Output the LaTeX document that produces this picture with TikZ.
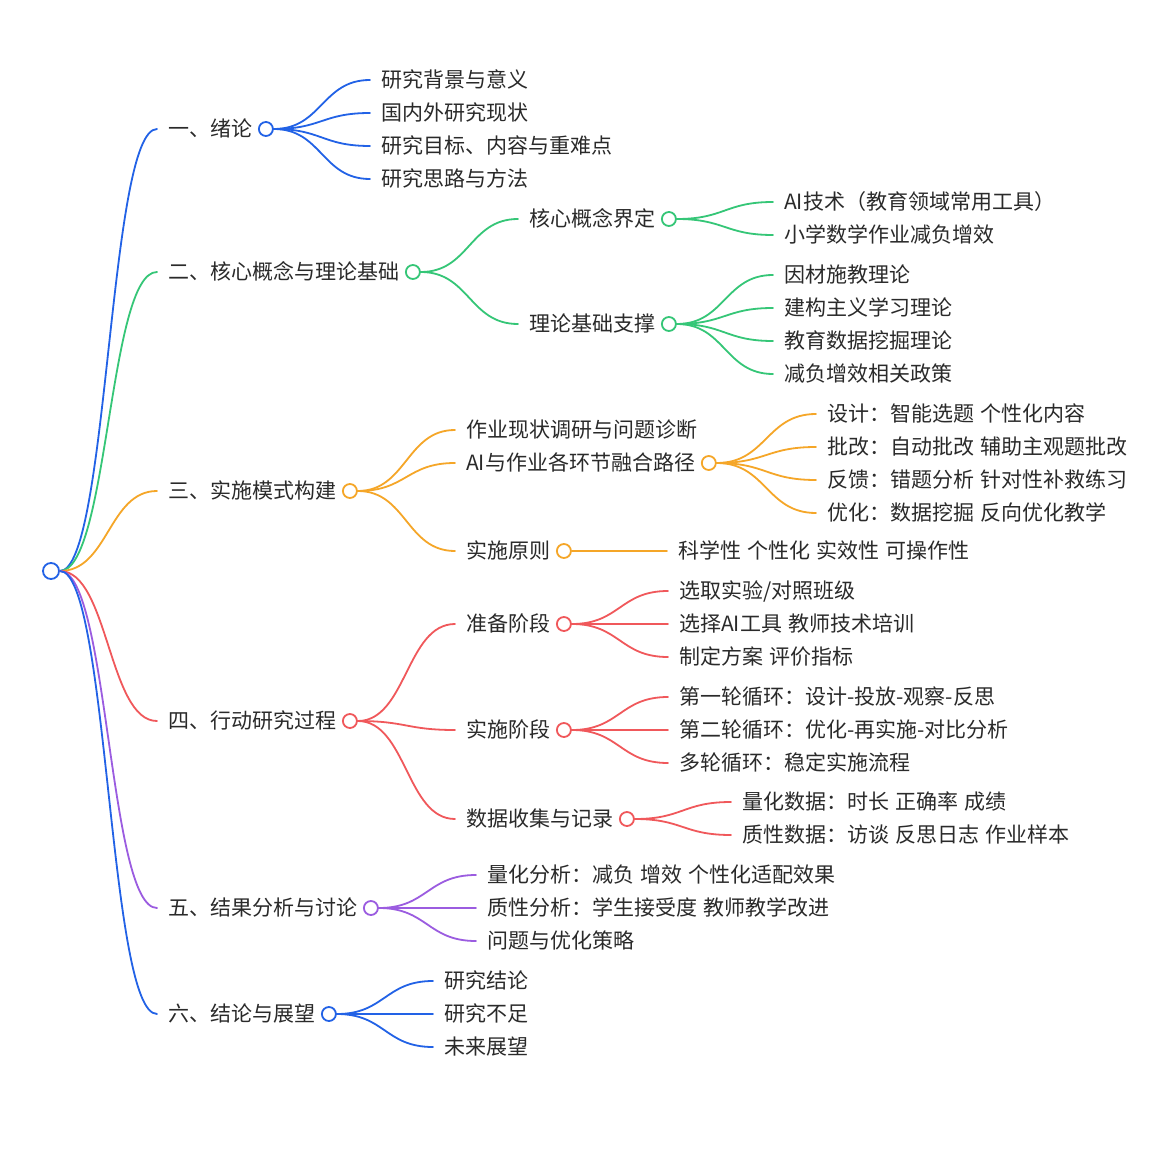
\documentclass[tikz,border=0pt]{standalone}
\usepackage{fontspec}
\setmainfont[WordSpace=1.28]{Noto Sans CJK SC}
\usetikzlibrary{calc}
\definecolor{mmblue}{HTML}{2262E6}
\definecolor{mmgreen}{HTML}{35C677}
\definecolor{mmorange}{HTML}{F5A628}
\definecolor{mmred}{HTML}{F0585B}
\definecolor{mmpurple}{HTML}{9B5CE0}
\definecolor{mmtext}{HTML}{2A2A2A}
\tikzset{
  txt/.style={anchor=west, inner sep=0pt, text=mmtext, font=\fontsize{21pt}{25pt}\selectfont, text height=18pt, text depth=3pt},
  mmdot/.style={circle, draw=#1, fill=white, line width=1.8pt, minimum size=14pt, inner sep=0pt},
  mmline/.style={draw=#1, line width=1.8pt, line cap=round},
}
\newcommand\mmlink[3]{\draw[mmline=#1] let \p1=(#2), \p2=(#3) in (\p1) .. controls ({0.5*\x1+0.5*\x2},\y1) and ({0.5*\x1+0.5*\x2},\y2) .. (\p2);}
\newcommand\mmitem[4]{\coordinate (#1-l) at (#2,#3); \node[txt] (#1) at (#2+11,#3) {#4};}
\newcommand\mmhub[2]{\node[mmdot=#2] (#1-c) at ([xshift=13.5pt]#1.east) {};}
\begin{document}
\begin{tikzpicture}[x=1pt,y=-1pt]
\fill[white] (0,0) rectangle (1170,1155);
\useasboundingbox (0,0) rectangle (1170,1155);

% root
\node[mmdot=mmblue, minimum size=16pt] (root) at (51,571) {};

% level 1
\mmitem{A}{157}{129}{一、绪论}
\mmitem{B}{157}{272}{二、核心概念与理论基础}
\mmitem{C}{157}{491}{三、实施模式构建}
\mmitem{D}{157}{721}{四、行动研究过程}
\mmitem{E}{157}{908}{五、结果分析与讨论}
\mmitem{F}{157}{1014}{六、结论与展望}

% A children
\mmitem{Aa}{370}{80}{研究背景与意义}
\mmitem{Ab}{370}{113}{国内外研究现状}
\mmitem{Ac}{370}{146}{研究目标、内容与重难点}
\mmitem{Ad}{370}{179}{研究思路与方法}

% B children
\mmitem{Ba}{518}{219}{核心概念界定}
\mmitem{Bb}{518}{324}{理论基础支撑}
\mmitem{Baa}{773}{202}{AI技术（教育领域常用工具）}
\mmitem{Bab}{773}{235}{小学数学作业减负增效}
\mmitem{Bba}{773}{275}{因材施教理论}
\mmitem{Bbb}{773}{308}{建构主义学习理论}
\mmitem{Bbc}{773}{341}{教育数据挖掘理论}
\mmitem{Bbd}{773}{374}{减负增效相关政策}

% C children
\mmitem{Ca}{455}{430}{作业现状调研与问题诊断}
\mmitem{Cb}{455}{463}{AI与作业各环节融合路径}
\mmitem{Cc}{455}{551}{实施原则}
\mmitem{Cba}{816}{414}{设计：智能选题 个性化内容}
\mmitem{Cbb}{816}{447}{批改：自动批改 辅助主观题批改}
\mmitem{Cbc}{816}{480}{反馈：错题分析 针对性补救练习}
\mmitem{Cbd}{816}{513}{优化：数据挖掘 反向优化教学}
\mmitem{Cca}{667}{551}{科学性 个性化 实效性 可操作性}

% D children
\mmitem{Da}{455}{624}{准备阶段}
\mmitem{Db}{455}{730}{实施阶段}
\mmitem{Dc}{455}{819}{数据收集与记录}
\mmitem{Daa}{668}{591}{选取实验/对照班级}
\mmitem{Dab}{668}{624}{选择AI工具 教师技术培训}
\mmitem{Dac}{668}{657}{制定方案 评价指标}
\mmitem{Dba}{668}{697}{第一轮循环：设计-投放-观察-反思}
\mmitem{Dbb}{668}{730}{第二轮循环：优化-再实施-对比分析}
\mmitem{Dbc}{668}{763}{多轮循环：稳定实施流程}
\mmitem{Dca}{731}{802}{量化数据：时长 正确率 成绩}
\mmitem{Dcb}{731}{835}{质性数据：访谈 反思日志 作业样本}

% E children
\mmitem{Ea}{476}{875}{量化分析：减负 增效 个性化适配效果}
\mmitem{Eb}{476}{908}{质性分析：学生接受度 教师教学改进}
\mmitem{Ec}{476}{941}{问题与优化策略}

% F children
\mmitem{Fa}{433}{981}{研究结论}
\mmitem{Fb}{433}{1014}{研究不足}
\mmitem{Fc}{433}{1047}{未来展望}

% hubs
\mmhub{A}{mmblue}
\mmhub{B}{mmgreen}
\mmhub{Ba}{mmgreen}
\mmhub{Bb}{mmgreen}
\mmhub{C}{mmorange}
\mmhub{Cb}{mmorange}
\mmhub{Cc}{mmorange}
\mmhub{D}{mmred}
\mmhub{Da}{mmred}
\mmhub{Db}{mmred}
\mmhub{Dc}{mmred}
\mmhub{E}{mmpurple}
\mmhub{F}{mmblue}

% links from root
\mmlink{mmblue}{root.east}{A-l}
\mmlink{mmgreen}{root.east}{B-l}
\mmlink{mmorange}{root.east}{C-l}
\mmlink{mmred}{root.east}{D-l}
\mmlink{mmpurple}{root.east}{E-l}
\mmlink{mmblue}{root.east}{F-l}

% A
\mmlink{mmblue}{A-c.east}{Aa-l}
\mmlink{mmblue}{A-c.east}{Ab-l}
\mmlink{mmblue}{A-c.east}{Ac-l}
\mmlink{mmblue}{A-c.east}{Ad-l}

% B
\mmlink{mmgreen}{B-c.east}{Ba-l}
\mmlink{mmgreen}{B-c.east}{Bb-l}
\mmlink{mmgreen}{Ba-c.east}{Baa-l}
\mmlink{mmgreen}{Ba-c.east}{Bab-l}
\mmlink{mmgreen}{Bb-c.east}{Bba-l}
\mmlink{mmgreen}{Bb-c.east}{Bbb-l}
\mmlink{mmgreen}{Bb-c.east}{Bbc-l}
\mmlink{mmgreen}{Bb-c.east}{Bbd-l}

% C
\mmlink{mmorange}{C-c.east}{Ca-l}
\mmlink{mmorange}{C-c.east}{Cb-l}
\mmlink{mmorange}{C-c.east}{Cc-l}
\mmlink{mmorange}{Cb-c.east}{Cba-l}
\mmlink{mmorange}{Cb-c.east}{Cbb-l}
\mmlink{mmorange}{Cb-c.east}{Cbc-l}
\mmlink{mmorange}{Cb-c.east}{Cbd-l}
\mmlink{mmorange}{Cc-c.east}{Cca-l}

% D
\mmlink{mmred}{D-c.east}{Da-l}
\mmlink{mmred}{D-c.east}{Db-l}
\mmlink{mmred}{D-c.east}{Dc-l}
\mmlink{mmred}{Da-c.east}{Daa-l}
\mmlink{mmred}{Da-c.east}{Dab-l}
\mmlink{mmred}{Da-c.east}{Dac-l}
\mmlink{mmred}{Db-c.east}{Dba-l}
\mmlink{mmred}{Db-c.east}{Dbb-l}
\mmlink{mmred}{Db-c.east}{Dbc-l}
\mmlink{mmred}{Dc-c.east}{Dca-l}
\mmlink{mmred}{Dc-c.east}{Dcb-l}

% E
\mmlink{mmpurple}{E-c.east}{Ea-l}
\mmlink{mmpurple}{E-c.east}{Eb-l}
\mmlink{mmpurple}{E-c.east}{Ec-l}

% F
\mmlink{mmblue}{F-c.east}{Fa-l}
\mmlink{mmblue}{F-c.east}{Fb-l}
\mmlink{mmblue}{F-c.east}{Fc-l}
\end{tikzpicture}
\end{document}
